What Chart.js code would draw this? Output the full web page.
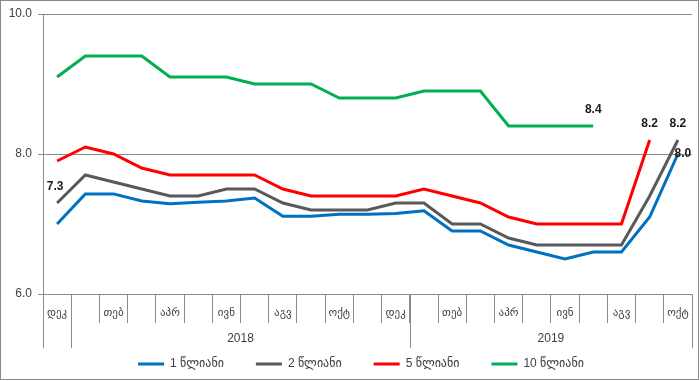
<!DOCTYPE html>
<html>
<head>
<meta charset="utf-8">
<script src="https://cdn.jsdelivr.net/npm/chart.js@4.4.1/dist/chart.umd.min.js"></script>
<style>
  html, body { margin: 0; padding: 0; background: #fff; }
  #wrap { width: 700px; height: 381px; }
</style>
</head>
<body>
<div id="wrap"><canvas id="yieldChart" width="700" height="381"></canvas></div>
<script>
// months Dec 2017 .. Oct 2019
const months = ['დეკ', 'იან', 'თებ', 'მარ', 'აპრ', 'მაი', 'ივნ', 'ივლ', 'აგვ', 'სექ', 'ოქტ', 'ნოე',
                'დეკ', 'იან', 'თებ', 'მარ', 'აპრ', 'მაი', 'ივნ', 'ივლ', 'აგვ', 'სექ', 'ოქტ'];

// year groups under the month labels
const yearLabels = ['2018', '2019'];
const yearStart = [1, 13];
const yearEnd = [12, 22];

const seriesNames = ['1 წლიანი', '2 წლიანი', '5 წლიანი', '10 წლიანი'];

const oneYear = [7.0, 7.43, 7.43, 7.33, 7.29, 7.31, 7.33, 7.37, 7.11, 7.11, 7.14, 7.14,
                 7.15, 7.19, 6.9, 6.9, 6.7, 6.6, 6.5, 6.6, 6.6, 7.1, 8.0];
const twoYear = [7.3, 7.7, 7.6, 7.5, 7.4, 7.4, 7.5, 7.5, 7.3, 7.2, 7.2, 7.2,
                 7.3, 7.3, 7.0, 7.0, 6.8, 6.7, 6.7, 6.7, 6.7, 7.4, 8.2];
const fiveYear = [7.9, 8.1, 8.0, 7.8, 7.7, 7.7, 7.7, 7.7, 7.5, 7.4, 7.4, 7.4,
                  7.4, 7.5, 7.4, 7.3, 7.1, 7.0, 7.0, 7.0, 7.0, 8.2, null];
const tenYear = [9.1, 9.4, 9.4, 9.4, 9.1, 9.1, 9.1, 9.0, 9.0, 9.0, 8.8, 8.8,
                 8.8, 8.9, 8.9, 8.9, 8.4, 8.4, 8.4, 8.4, null, null, null];

const yTicks = [6, 8, 10];

// which points get a value label: [dataset, point, placement]
const valueLabels = [
    [1, 0, 'left'],
    [3, 19, 'above'],
    [2, 21, 'above'],
    [1, 22, 'above'],
    [0, 22, 'right']
];

const colors = ['#0070C0', '#595959', '#FF0000', '#00B050'];
const axisGray = '#8c8c8c';
const textGray = '#404040';
const fontFamily = "'Liberation Sans', 'DejaVu Sans', sans-serif";

// frame, year groups and long separators
const framePlugin = {
    id: 'frame',
    beforeDraw(chart) {
        const ctx = chart.ctx;
        ctx.save();
        ctx.fillStyle = '#fff';
        ctx.fillRect(0, 0, chart.width, chart.height);
        ctx.restore();
    },
    afterLayout(chart) {
        // legend sits a little right of centre in the original
        chart.legend.left += 30;
    },
    afterDraw(chart) {
        const ctx = chart.ctx;
        const x = chart.scales.x;
        const bottom = chart.chartArea.bottom;
        const step = x.width / months.length;
        ctx.save();
        ctx.strokeStyle = axisGray;
        ctx.lineWidth = 1;
        const edges = [0, ...yearStart, yearEnd[yearEnd.length - 1] + 1];
        edges.forEach(k => {
            const px = Math.round(x.left + k * step) + 0.5;
            ctx.beginPath();
            ctx.moveTo(px, bottom);
            ctx.lineTo(px, bottom + 54);
            ctx.stroke();
        });
        ctx.fillStyle = textGray;
        ctx.font = '12px ' + fontFamily;
        ctx.textAlign = 'center';
        ctx.textBaseline = 'middle';
        yearLabels.forEach((label, i) => {
            const cx = x.left + (yearStart[i] + yearEnd[i] + 1) / 2 * step;
            ctx.fillText(label, cx, bottom + 45);
        });
        ctx.strokeStyle = '#898989';
        ctx.strokeRect(0.5, 0.5, chart.width - 2, chart.height - 2);
        ctx.restore();
    }
};

const valueLabelPlugin = {
    id: 'valueLabels',
    afterDatasetsDraw(chart) {
        const ctx = chart.ctx;
        ctx.save();
        ctx.font = 'bold 12px ' + fontFamily;
        ctx.fillStyle = '#1a1a1a';
        ctx.textAlign = 'center';
        ctx.textBaseline = 'middle';
        valueLabels.forEach(([ds, i, where]) => {
            const pt = chart.getDatasetMeta(ds).data[i];
            const value = chart.data.datasets[ds].data[i].toFixed(1);
            if (where === 'above') ctx.fillText(value, pt.x, pt.y - 16);
            else if (where === 'left') ctx.fillText(value, pt.x - 2, pt.y - 16);
            else ctx.fillText(value, pt.x + 5, pt.y);
        });
        ctx.restore();
    }
};

const seriesData = [oneYear, twoYear, fiveYear, tenYear];

new Chart(document.getElementById('yieldChart'), {
    type: 'line',
    data: {
        labels: months,
        datasets: seriesData.map((values, i) => ({
            label: seriesNames[i],
            data: values,
            borderColor: colors[i],
            backgroundColor: colors[i],
            borderWidth: 3,
            pointRadius: 0,
            tension: 0,
            fill: false
        }))
    },
    options: {
        responsive: false,
        animation: false,
        devicePixelRatio: 1,
        layout: {
            padding: { left: 0, right: 8, top: 14, bottom: 1 }
        },
        plugins: {
            tooltip: { enabled: false },
            legend: {
                position: 'bottom',
                labels: {
                    boxWidth: 26,
                    boxHeight: 3,
                    padding: 32,
                    color: textGray,
                    font: { size: 12, family: fontFamily },
                    generateLabels: chart => Chart.defaults.plugins.legend.labels.generateLabels(chart)
                        .map(item => Object.assign(item, { lineWidth: 0 }))
                }
            }
        },
        scales: {
            x: {
                offset: true,
                grid: {
                    offset: true,
                    drawOnChartArea: false,
                    tickLength: 29,
                    color: axisGray
                },
                border: { color: axisGray },
                ticks: {
                    autoSkip: false,
                    maxRotation: 0,
                    padding: -17,
                    color: textGray,
                    font: { size: 11, family: fontFamily },
                    callback: function(value, index) {
                        return index % 2 === 0 ? this.getLabelForValue(value) : '';
                    }
                },
                afterFit: scale => { scale.height = 32; }
            },
            y: {
                min: 6,
                max: 10,
                afterBuildTicks: scale => { scale.ticks = yTicks.map(v => ({ value: v })); },
                grid: {
                    color: axisGray,
                    tickLength: 5
                },
                border: { color: axisGray },
                ticks: {
                    padding: 6,
                    color: textGray,
                    font: { size: 12, family: fontFamily },
                    callback: v => v.toFixed(1)
                },
                afterFit: scale => { scale.width = 43; }
            }
        }
    },
    plugins: [framePlugin, valueLabelPlugin]
});
</script>
</body>
</html>
